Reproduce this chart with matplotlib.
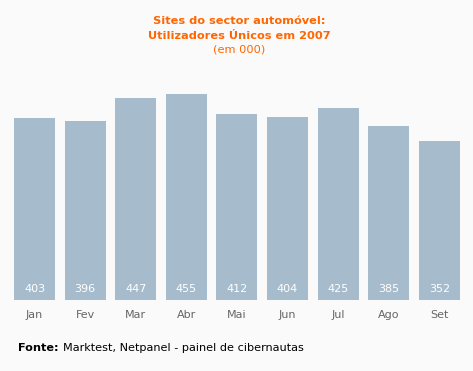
import matplotlib.pyplot as plt
import numpy as np

# Monthly unique users (thousands), 2007
months = ['Jan', 'Fev', 'Mar', 'Abr', 'Mai', 'Jun', 'Jul', 'Ago', 'Set']
users = [403, 396, 447, 455, 412, 404, 425, 385, 352]

bg = '#fafafa'
bar_color = '#a6bccc'
orange = '#ff6600'

W, H = 473, 371
fig = plt.figure(figsize=(W / 100, H / 100), dpi=100, facecolor=bg)

# axes in pixel coordinates: left 9, bottom edge at y=300, top at y=74
left, right = 9.2, 464.6
bottom, top = 300, 74
ax = fig.add_axes([left / W, (H - bottom) / H, (right - left) / W, (bottom - top) / H])
ax.set_facecolor(bg)

x = np.arange(len(months))
ax.bar(x, users, width=0.81, color=bar_color)
ax.set_xlim(-0.5, len(months) - 0.5)
ax.set_ylim(0, 500)

for xi, v in zip(x, users):
    ax.annotate(str(v), (xi, 0), xytext=(0, 11), textcoords='offset pixels',
                ha='center', va='center', color='white', fontsize=8)

ax.set_xticks(x)
ax.set_xticklabels(months, fontsize=8, color='#666666')
ax.tick_params(axis='x', length=0, pad=7)
ax.set_yticks([])
for s in ax.spines.values():
    s.set_visible(False)

# title
fig.text(239 / W, 1 - 21 / H, 'Sites do sector automóvel:', ha='center', va='center',
         color=orange, fontsize=8.2, fontweight='bold')
fig.text(239 / W, 1 - 36 / H, 'Utilizadores Únicos em 2007', ha='center', va='center',
         color=orange, fontsize=8.2, fontweight='bold')
fig.text(239 / W, 1 - 50 / H, '(em 000)', ha='center', va='center',
         color=orange, fontsize=8.2)

# source
t = fig.text(18 / W, 1 - 348 / H, 'Fonte:', ha='left', va='center',
             color='black', fontsize=8.1, fontweight='bold')
fig.canvas.draw()
bb = t.get_window_extent()
fig.text((bb.x1 + 4) / W, 1 - 348 / H, 'Marktest, Netpanel - painel de cibernautas',
         ha='left', va='center', color='black', fontsize=8.1)

fig.savefig('out.png', dpi=100, facecolor=bg)
